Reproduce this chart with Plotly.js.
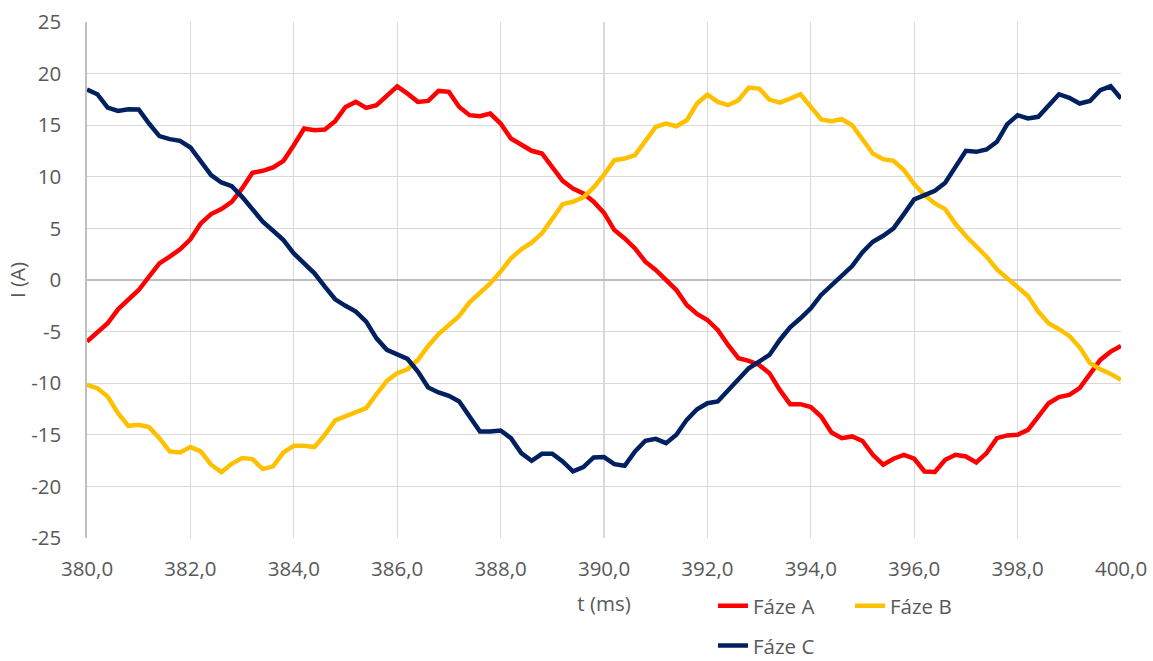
<!DOCTYPE html>
<html>
<head>
<meta charset="utf-8">
<script src="https://cdn.plot.ly/plotly-3.0.1.min.js"></script>
<style>html,body{margin:0;padding:0;background:#fff;}#chart{width:1153px;height:661px;}</style>
</head>
<body>
<div id="chart"></div>
<script>
const seriesNames = ['Fáze A', 'Fáze B', 'Fáze C'];
const xTitle = 't (ms)';
const yTitle = 'I (A)';
const yTickVals = [-25, -20, -15, -10, -5, 0, 5, 10, 15, 20, 25];
const yTickText = ['-25', '-20', '-15', '-10', '-5', '0', '5', '10', '15', '20', '25'];
const xTickVals = [380, 382, 384, 386, 388, 390, 392, 394, 396, 398, 400];
const xTickText = ['380,0', '382,0', '384,0', '386,0', '388,0', '390,0', '392,0', '394,0', '396,0', '398,0', '400,0'];

const t = [380.0,380.2,380.4,380.6,380.8,381.0,381.2,381.4,381.6,381.8,
382.0,382.2,382.4,382.6,382.8,383.0,383.2,383.4,383.6,383.8,
384.0,384.2,384.4,384.6,384.8,385.0,385.2,385.4,385.6,385.8,
386.0,386.2,386.4,386.6,386.8,387.0,387.2,387.4,387.6,387.8,
388.0,388.2,388.4,388.6,388.8,389.0,389.2,389.4,389.6,389.8,
390.0,390.2,390.4,390.6,390.8,391.0,391.2,391.4,391.6,391.8,
392.0,392.2,392.4,392.6,392.8,393.0,393.2,393.4,393.6,393.8,
394.0,394.2,394.4,394.6,394.8,395.0,395.2,395.4,395.6,395.8,
396.0,396.2,396.4,396.6,396.8,397.0,397.2,397.4,397.6,397.8,
398.0,398.2,398.4,398.6,398.8,399.0,399.2,399.4,399.6,399.8,400.0];

const fazeA = [-5.97,-5.1,-4.19,-2.84,-1.87,-0.97,0.32,1.61,2.26,2.97,
3.94,5.48,6.39,6.87,7.58,8.87,10.39,10.58,10.9,11.55,
13.06,14.68,14.52,14.58,15.39,16.77,17.26,16.68,16.94,17.9,
18.77,18.06,17.26,17.35,18.32,18.23,16.77,15.97,15.87,16.13,
15.16,13.71,13.06,12.52,12.26,10.97,9.61,8.87,8.39,7.58,
6.5,4.84,4.03,3.06,1.77,0.97,0,-0.97,-2.42,-3.29,
-3.87,-4.84,-6.29,-7.58,-7.84,-8.23,-9.03,-10.65,-12.03,-12.03,
-12.32,-13.23,-14.77,-15.32,-15.16,-15.6,-16.94,-17.9,-17.32,-16.94,
-17.32,-18.55,-18.61,-17.42,-16.94,-17.1,-17.68,-16.77,-15.32,-15.06,
-15.0,-14.52,-13.23,-11.94,-11.35,-11.13,-10.48,-9.03,-7.74,-6.94,-6.39];

const fazeB = [-10.16,-10.48,-11.29,-12.9,-14.13,-14.03,-14.26,-15.32,-16.61,-16.71,
-16.19,-16.61,-17.9,-18.61,-17.81,-17.26,-17.35,-18.32,-18.06,-16.71,
-16.06,-16.06,-16.19,-15.0,-13.61,-13.23,-12.9,-12.42,-11.06,-9.77,
-9.03,-8.65,-7.74,-6.39,-5.23,-4.35,-3.48,-2.16,-1.23,-0.32,
0.81,2.1,2.97,3.61,4.52,5.97,7.35,7.58,8.0,8.97,
10.2,11.61,11.77,12.1,13.39,14.84,15.16,14.9,15.48,17.1,
17.97,17.26,16.94,17.42,18.65,18.55,17.48,17.19,17.58,18.0,
16.77,15.55,15.39,15.58,15.0,13.7,12.26,11.71,11.55,10.65,
9.29,8.23,7.42,6.87,5.42,4.26,3.29,2.26,1.03,0.16,
-0.65,-1.55,-3.06,-4.19,-4.77,-5.42,-6.52,-8.06,-8.65,-9.1,-9.68];

const fazeC = [18.45,18.0,16.71,16.39,16.55,16.52,15.16,13.94,13.65,13.48,
12.84,11.55,10.16,9.45,9.1,8.06,6.77,5.65,4.77,3.87,
2.58,1.61,0.65,-0.65,-1.87,-2.5,-3.06,-4.03,-5.65,-6.77,
-7.16,-7.65,-8.87,-10.42,-10.9,-11.23,-11.77,-13.29,-14.68,-14.68,
-14.58,-15.32,-16.77,-17.52,-16.84,-16.84,-17.58,-18.55,-18.13,-17.19,
-17.16,-17.84,-18.0,-16.61,-15.58,-15.39,-15.81,-15.0,-13.55,-12.52,
-11.94,-11.77,-10.65,-9.52,-8.55,-7.9,-7.26,-5.81,-4.58,-3.71,
-2.74,-1.45,-0.48,0.39,1.35,2.7,3.71,4.29,5.0,6.39,
7.81,8.23,8.65,9.42,10.9,12.52,12.42,12.65,13.39,15.1,
15.97,15.65,15.81,16.94,18.0,17.65,17.1,17.35,18.39,18.77,17.58];

const colors = ['#FF0000', '#FFC000', '#002060'];
const values = [fazeA, fazeB, fazeC];
const legendIds = ['legend', 'legend2', 'legend3'];

const traces = values.map((v, i) => ({
  type: 'scatter', mode: 'lines', x: t, y: v, name: seriesNames[i],
  line: {color: colors[i], width: 4.5, shape: 'linear'},
  legend: legendIds[i], hoverinfo: 'x+y+name'
}));

const FONT = 'Open Sans, Lato, sans-serif';
const TXT = '#595959';
const FS = 20.5;
const legendBase = {orientation: 'h', xanchor: 'left', yanchor: 'middle', bgcolor: 'rgba(0,0,0,0)',
  font: {family: FONT, size: FS, color: TXT}, borderwidth: 0};

const layout = {
  width: 1153, height: 661,
  margin: {l: 87, r: 32, t: 22, b: 123, autoexpand: false},
  paper_bgcolor: '#ffffff', plot_bgcolor: '#ffffff',
  font: {family: FONT, size: FS, color: TXT},
  showlegend: true,
  xaxis: {
    range: [380, 400], tickmode: 'array', tickvals: xTickVals, ticktext: xTickText,
    showgrid: true, gridcolor: '#D9D9D9', gridwidth: 1.3,
    zeroline: false, showline: false, ticks: '',
    ticklabelstandoff: 16,
    tickfont: {family: FONT, size: FS, color: TXT},
    title: {text: xTitle, standoff: 16, font: {family: FONT, size: FS, color: TXT}}
  },
  yaxis: {
    range: [-25, 25], tickmode: 'array', tickvals: yTickVals, ticktext: yTickText,
    showgrid: true, gridcolor: '#D9D9D9', gridwidth: 1.3,
    zeroline: true, zerolinecolor: '#BFBFBF', zerolinewidth: 1.6,
    showline: true, linecolor: '#BFBFBF', linewidth: 1.6, ticks: '',
    ticklabelstandoff: 20,
    tickfont: {family: FONT, size: FS, color: TXT},
    title: {text: yTitle, standoff: 0, font: {family: FONT, size: FS, color: TXT}}
  },
  legend: Object.assign({}, legendBase, {x: 0.6054, y: -0.1315}),
  legend2: Object.assign({}, legendBase, {x: 0.7379, y: -0.1315}),
  legend3: Object.assign({}, legendBase, {x: 0.6054, y: -0.2089})
};

Plotly.newPlot('chart', traces, layout, {displayModeBar: false, staticPlot: true});
</script>
</body>
</html>
